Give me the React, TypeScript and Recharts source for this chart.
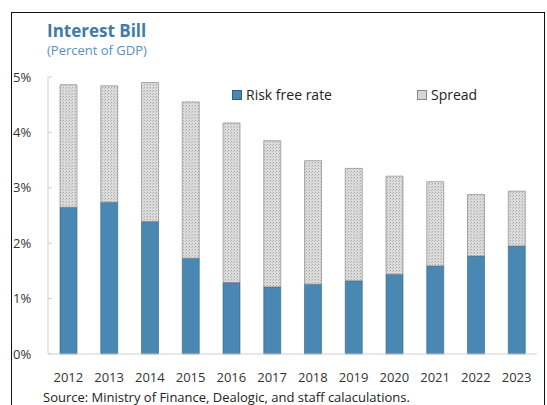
import { BarChart, Bar, XAxis, YAxis } from "recharts";

// Years on the horizontal axis
const years = ["2012", "2013", "2014", "2015", "2016", "2017", "2018", "2019", "2020", "2021", "2022", "2023"];
// Percent of GDP
const riskFree = [2.65, 2.74, 2.39, 1.73, 1.29, 1.21, 1.26, 1.32, 1.44, 1.59, 1.77, 1.95];
const spread = [2.21, 2.1, 2.51, 2.82, 2.88, 2.64, 2.23, 2.03, 1.77, 1.52, 1.11, 0.99];
const yTicks = [0, 1, 2, 3, 4, 5];

const data = years.map((year, i) => ({
  year,
  "Risk free rate": riskFree[i],
  Spread: spread[i],
}));

const FONT = "'Open Sans', sans-serif";
const BLUE = "#4a88b4";

const YTick = (props: any) => {
  const { y, payload } = props;
  return (
    <g>
      <line x1={48} x2={52} y1={y} y2={y} stroke="#d0d0d0" />
      <text x={13} y={y} dy="0.36em" fontSize={13} fill="#333" fontFamily={FONT}>
        {payload.value}%
      </text>
    </g>
  );
};

export default function App() {
  return (
    <div style={{ position: "absolute", left: 0, top: 0, width: 547, height: 405, background: "#fff", overflow: "hidden" }}>
      <div
        style={{
          position: "absolute",
          left: 11,
          top: 12,
          width: 532,
          height: 400,
          borderLeft: "1.5px solid #111",
          borderTop: "1.5px solid #111",
          borderRight: "1.5px solid #111",
        }}
      />
      <div
        style={{
          position: "absolute",
          left: 47,
          top: 21,
          fontFamily: FONT,
          fontWeight: 700,
          fontSize: 17,
          lineHeight: "19px",
          color: "#3f7aab",
        }}
      >
        Interest Bill
      </div>
      <div
        style={{
          position: "absolute",
          left: 47,
          top: 43,
          fontFamily: FONT,
          fontSize: 13,
          lineHeight: "15px",
          color: "#5a8fbf",
        }}
      >
        (Percent of GDP)
      </div>
      <BarChart
        width={547}
        height={405}
        data={data}
        margin={{ top: 77, right: 10, bottom: 21, left: 0 }}
        barSize={17}
      >
        <defs>
          <pattern id="stipple" width="3" height="3" patternUnits="userSpaceOnUse">
            <rect width="3" height="3" fill="#dcdcdc" />
            <rect x="0" y="0" width="1" height="1" fill="#a8a8a8" />
            <rect x="2" y="1" width="1" height="1" fill="#bdbdbd" />
          </pattern>
        </defs>
        <XAxis
          dataKey="year"
          axisLine={{ stroke: "#d0d0d0" }}
          tickLine={false}
          tickMargin={13}
          height={30}
          tick={{ fontSize: 13, fill: "#333", fontFamily: FONT }}
          interval={0}
        />
        <XAxis xAxisId="top" orientation="top" dataKey="year" height={0} tick={false} tickLine={false} axisLine={{ stroke: "#d9d9d9" }} />
        <YAxis
          domain={[0, 5]}
          ticks={yTicks}
          width={48}
          axisLine={{ stroke: "#d0d0d0" }}
          tickLine={false}
          tick={<YTick />}
        />
        <YAxis yAxisId="right" orientation="right" width={0} tick={false} tickLine={false} axisLine={{ stroke: "#d9d9d9" }} />
        <Bar dataKey="Risk free rate" stackId="a" fill={BLUE} stroke="#2f607f" strokeWidth={0.6} isAnimationActive={false} />
        <Bar dataKey="Spread" stackId="a" fill="url(#stipple)" stroke="#7a7a7a" strokeWidth={0.6} isAnimationActive={false} />
      </BarChart>
      {/* legend sits inside the plot, top right */}
      <div style={{ position: "absolute", left: 232, top: 85, display: "flex", alignItems: "center", fontFamily: FONT, fontSize: 14, color: "#222" }}>
        <span style={{ width: 8, height: 8, background: BLUE, border: "0.5px solid #2f607f", marginRight: 4 }} />
        Risk free rate
      </div>
      <div style={{ position: "absolute", left: 417, top: 85, display: "flex", alignItems: "center", fontFamily: FONT, fontSize: 14, color: "#222" }}>
        <span style={{ width: 8, height: 8, background: "#d6d6d6", border: "0.5px solid #888", marginRight: 4 }} />
        Spread
      </div>
      <div
        style={{
          position: "absolute",
          left: 43,
          top: 390,
          fontFamily: FONT,
          fontSize: 13,
          lineHeight: "14px",
          color: "#222",
          whiteSpace: "nowrap",
        }}
      >
        Source: Ministry of Finance, Dealogic, and staff calaculations.
      </div>
    </div>
  );
}
